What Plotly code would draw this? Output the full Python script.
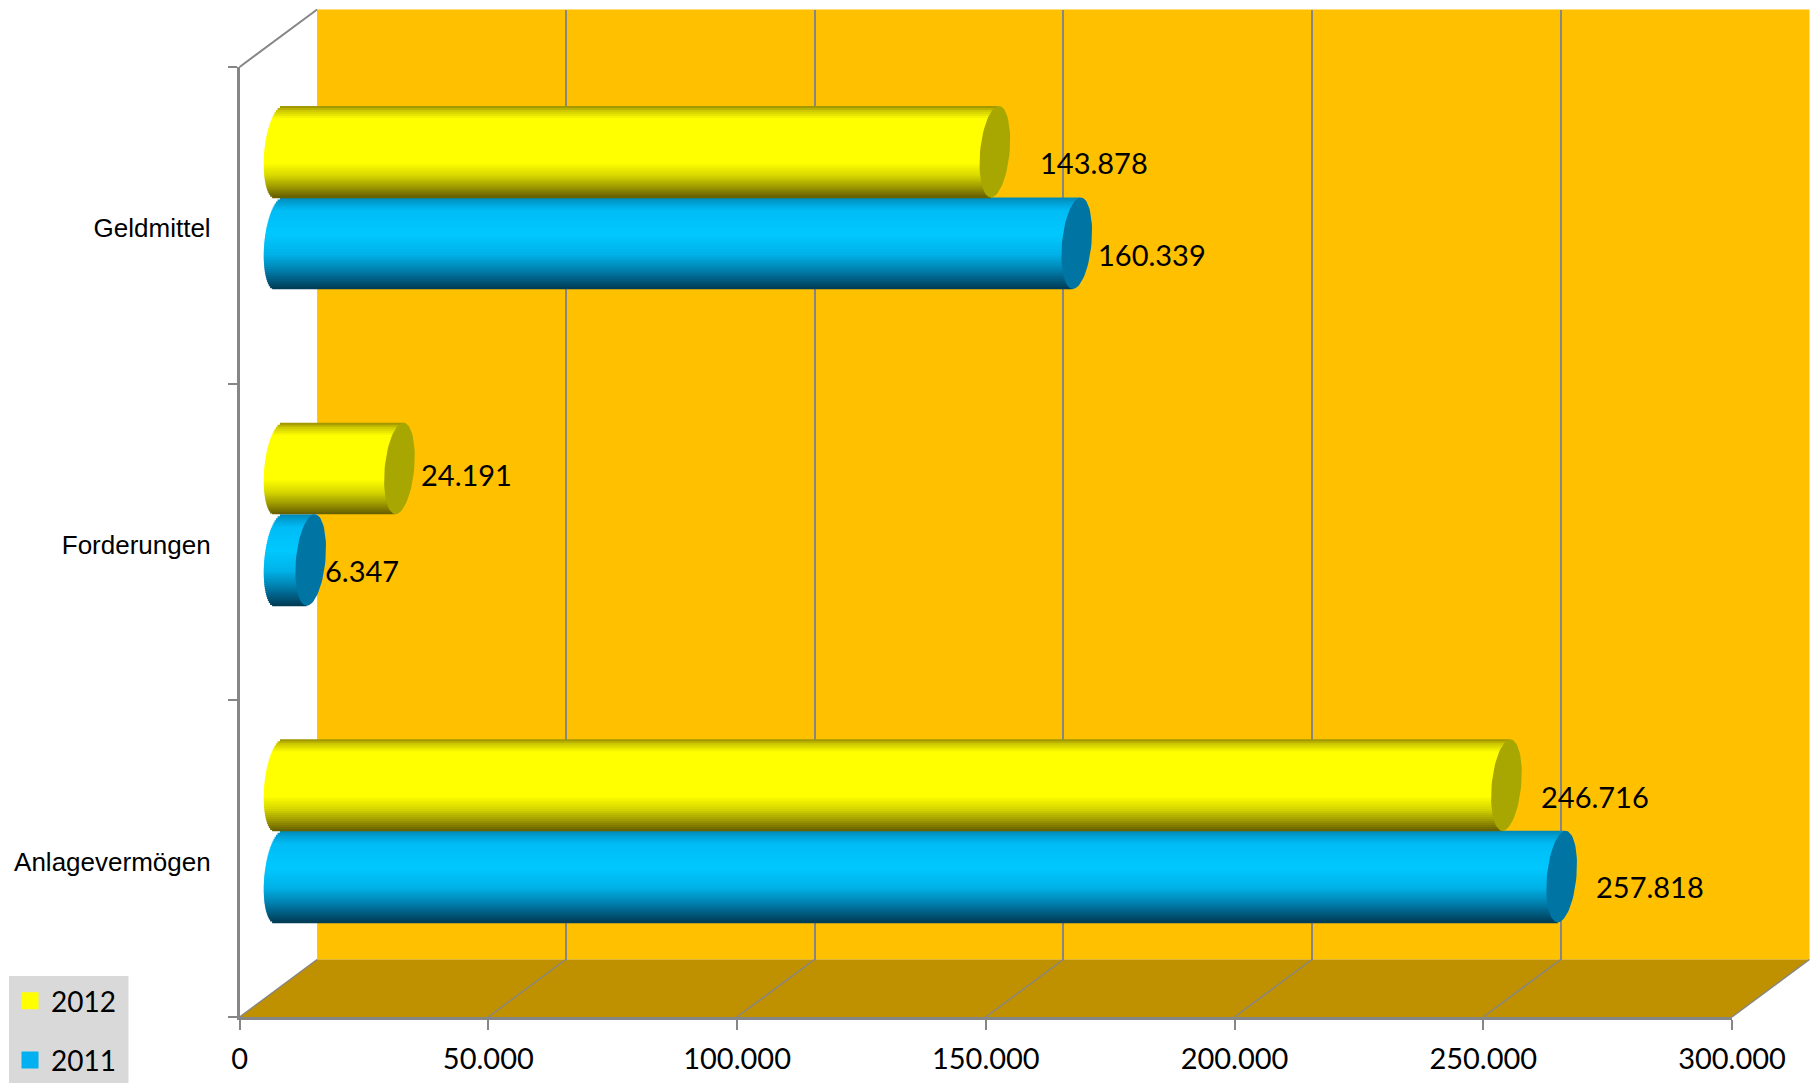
import math
import plotly.graph_objects as go

# ---------- data ----------
CATEGORIES = ["Anlagevermögen", "Forderungen", "Geldmittel"]
VALUES_2011 = [257818, 6347, 160339]
VALUES_2012 = [246716, 24191, 143878]
X_TICKS = [0, 50000, 100000, 150000, 200000, 250000, 300000]

# ---------- geometry in page pixels ----------
W, H = 1815, 1083
FRONT_X0, FRONT_X1 = 239.6, 1732.0
FRONT_Y_BOTTOM, FRONT_Y_TOP = 1017.0, 67.0
DEPTH_X, DEPTH_Y = 77.5, 57.5
BAR_DX, BAR_DY = 39.5, 27.8
XMAX = 300000
UNIT = XMAX / (FRONT_X1 - FRONT_X0)          # data units per pixel
BAND = (FRONT_Y_BOTTOM - FRONT_Y_TOP) / 3
BAR_H = 91.5 / BAND                          # bar thickness in category units
CAP_A, CAP_S = 14.8, 4.0                     # cap half-width and slant, px
BAR_PAD = 30.0                               # room left of zero for the rounded bar ends, px
N_STRIPS = 46

def px(x): return x / W
def py(y): return 1 - y / H

# ---------- cylinder shading (position from the top, colour) ----------
YELLOW_STOPS = [(0.00, (150, 140, 0)), (0.05, (205, 200, 0)), (0.14, (255, 255, 0)),
                (0.62, (255, 255, 0)), (0.76, (215, 215, 0)), (0.90, (150, 145, 0)),
                (1.00, (100, 92, 0))]
BLUE_STOPS = [(0.00, (0, 135, 180)), (0.06, (0, 160, 212)), (0.14, (0, 188, 245)),
              (0.40, (0, 200, 255)), (0.62, (0, 178, 232)), (0.80, (0, 125, 170)),
              (0.92, (0, 85, 120)), (1.00, (0, 58, 82))]

def shade(stops, t):
    for (t0, c0), (t1, c1) in zip(stops, stops[1:]):
        if t <= t1:
            f = (t - t0) / (t1 - t0)
            return "rgb(%d,%d,%d)" % tuple(round(a + (b - a) * f) for a, b in zip(c0, c1))
    return "rgb(%d,%d,%d)" % stops[-1][1]

fig = go.Figure()

# wall-plane subplot (x, y) holds the gridlines; bar plane (x2, y2); front axes (x3, y3)
AX2 = dict(xaxis="x2", yaxis="y2")
Y_POS = list(range(len(CATEGORIES)))

def add_series(name, values, colour, stops, top, rank):
    # the series' bar; the strips below shade it like a cylinder
    fig.add_trace(go.Bar(
        name=name, orientation="h", y=Y_POS, x=values, base=0,
        width=BAR_H * 0.6, offset=top - BAR_H * 0.8,
        marker=dict(color=colour, line=dict(color=colour, width=6)),
        legendrank=rank, legendgroup=name, hoverinfo="skip", **AX2))
    strip = BAR_H / N_STRIPS
    for i in range(N_STRIPS):
        t = (i + 0.5) / N_STRIPS
        h = 1 - 2 * t
        slant = CAP_S * h
        left = (-CAP_A * math.sqrt(max(0, 1 - h * h)) + slant) * UNIT
        y_top = top - i * strip
        y_bot = max(top - BAR_H, y_top - 1.6 * strip)
        fig.add_trace(go.Bar(
            orientation="h", y=Y_POS,
            x=[v + slant * UNIT - left for v in values], base=left,
            width=y_top - y_bot, offset=y_bot,
            marker=dict(color=shade(stops, t), line=dict(width=0)),
            showlegend=False, hoverinfo="skip", **AX2))

add_series("2011", VALUES_2011, "#00B0F0", BLUE_STOPS, 0.0, 2)
add_series("2012", VALUES_2012, "#FFFF00", YELLOW_STOPS, BAR_H, 1)

def add_caps(values, colour, top):
    xs, ys = [], []
    centre = top - BAR_H / 2
    for pos, v in zip(Y_POS, values):
        for k in range(73):
            a = 2 * math.pi * k / 72
            s = math.sin(a)
            xs.append(v + (CAP_A * math.cos(a) + CAP_S * s) * UNIT)
            ys.append(pos + centre + BAR_H / 2 * s)
        xs.append(None)
        ys.append(None)
    fig.add_trace(go.Scatter(x=xs, y=ys, mode="lines", fill="toself", fillcolor=colour,
                             line=dict(width=0, color=colour), showlegend=False,
                             hoverinfo="skip", **AX2))

add_caps(VALUES_2011, "#0075A3", 0.0)
add_caps(VALUES_2012, "#A8A600", BAR_H)

# front axes need the categories registered
fig.add_trace(go.Scatter(x=[0] * 3, y=CATEGORIES, mode="none", showlegend=False,
                         hoverinfo="skip", xaxis="x3", yaxis="y3"))
# wall subplot
fig.add_trace(go.Scatter(x=[0], y=[0], mode="none", showlegend=False, hoverinfo="skip"))

# ---------- data labels ----------
LABEL_SHIFTS = {
    ("2012", 2): (99.5, 34.6), ("2011", 2): (75.2, -56.8),
    ("2012", 1): (67.5, 39.8), ("2011", 1): (51.7, -56.3),
    ("2012", 0): (89.0, 34.5), ("2011", 0): (88.7, -55.8),
}
annotations = []
for name, values in (("2012", VALUES_2012), ("2011", VALUES_2011)):
    for pos, v in zip(Y_POS, values):
        sx, sy = LABEL_SHIFTS[(name, pos)]
        annotations.append(dict(
            x=v, y=pos, xref="x2", yref="y2", xshift=sx, yshift=sy, showarrow=False,
            xanchor="center", yanchor="middle",
            text=f"{v:,}".replace(",", "."),
            font=dict(family="Lato", size=29, color="#000000")))

# ---------- wall, floor, side edges ----------
GREY = "#868686"
WALL_Y_TOP = FRONT_Y_TOP - DEPTH_Y
WALL_Y_BOTTOM = FRONT_Y_BOTTOM - DEPTH_Y
WALL_X0, WALL_X1 = FRONT_X0 + DEPTH_X, FRONT_X1 + DEPTH_X

def poly(points):
    return "M" + " L".join(f"{px(x)},{py(y)}" for x, y in points) + " Z"

shapes = [
    dict(type="rect", xref="paper", yref="paper", layer="below", line=dict(width=0),
         fillcolor="#FFC000", x0=px(WALL_X0), x1=px(WALL_X1),
         y0=py(WALL_Y_BOTTOM), y1=py(WALL_Y_TOP)),
    dict(type="path", xref="paper", yref="paper", layer="below", line=dict(width=0),
         fillcolor="#BF9000",
         path=poly([(FRONT_X0, FRONT_Y_BOTTOM), (FRONT_X1, FRONT_Y_BOTTOM),
                    (WALL_X1, WALL_Y_BOTTOM), (WALL_X0, WALL_Y_BOTTOM)])),
    # legend panel, slightly wider than the legend's own box
    dict(type="rect", xref="paper", yref="paper", layer="below", line=dict(width=0),
         fillcolor="#D9D9D9", x0=px(9), x1=px(128.5), y0=py(1083), y1=py(976)),
]
for tick in X_TICKS:
    fx = FRONT_X0 + tick / UNIT
    shapes.append(dict(type="line", xref="paper", yref="paper", layer="below",
                       line=dict(color=GREY, width=1.5),
                       x0=px(fx), y0=py(FRONT_Y_BOTTOM),
                       x1=px(fx + DEPTH_X), y1=py(WALL_Y_BOTTOM)))
shapes.append(dict(type="line", xref="paper", yref="paper", layer="below",
                   line=dict(color=GREY, width=2),
                   x0=px(FRONT_X0), y0=py(FRONT_Y_TOP),
                   x1=px(WALL_X0), y1=py(WALL_Y_TOP)))

hidden = dict(visible=False, fixedrange=True)
fig.update_layout(
    width=W, height=H, autosize=False,
    margin=dict(l=0, r=0, t=0, b=0, pad=0, autoexpand=False),
    paper_bgcolor="#FFFFFF", plot_bgcolor="rgba(0,0,0,0)",
    barmode="overlay", separators=",.",
    shapes=shapes, annotations=annotations,
    font=dict(family="Lato", size=28, color="#000000"),
    hovermode=False,
    legend=dict(
        x=px(9), y=py(976), xanchor="left", yanchor="top",
        bgcolor="#D9D9D9", borderwidth=0,
        font=dict(family="Lato", size=28, color="#000000"),
        tracegroupgap=20, itemwidth=32,
        itemclick=False, itemdoubleclick=False),
    # wall plane
    xaxis=dict(domain=[px(WALL_X0), px(WALL_X1)], range=[0, XMAX], dtick=50000,
               showgrid=True, gridcolor=GREY, gridwidth=2, zeroline=False,
               showticklabels=False, ticks="", showline=False, anchor="y", fixedrange=True),
    yaxis=dict(domain=[py(WALL_Y_BOTTOM), py(WALL_Y_TOP)], range=[0, 1], showgrid=False,
               zeroline=False, showticklabels=False, ticks="", showline=False,
               anchor="x", fixedrange=True),
    # bar plane, mid-depth (range starts below zero so the rounded ends are not clipped)
    xaxis2=dict(domain=[px(FRONT_X0 + BAR_DX - BAR_PAD), px(FRONT_X1 + BAR_DX)],
                range=[-BAR_PAD * UNIT, XMAX], anchor="y2", **hidden),
    yaxis2=dict(domain=[py(FRONT_Y_BOTTOM - BAR_DY), py(FRONT_Y_TOP - BAR_DY)],
                range=[-0.5, 2.5], anchor="x2", **hidden),
    # front axes
    xaxis3=dict(domain=[px(FRONT_X0), px(FRONT_X1)], range=[0, XMAX],
                tickmode="array", tickvals=X_TICKS, tickformat=",d",
                showgrid=False, zeroline=False, showline=True, linecolor=GREY, linewidth=2.5,
                ticks="outside", ticklen=10, tickwidth=1.5, tickcolor=GREY,
                tickfont=dict(family="Lato", size=29, color="#000000"),
                ticklabelstandoff=4, anchor="y3", fixedrange=True),
    yaxis3=dict(domain=[py(FRONT_Y_BOTTOM), py(FRONT_Y_TOP)], type="category",
                categoryorder="array", categoryarray=CATEGORIES, range=[-0.5, 2.5],
                tickson="boundaries",
                showgrid=False, zeroline=False, showline=True, linecolor=GREY, linewidth=2.5,
                ticks="outside", ticklen=9, tickwidth=1.5, tickcolor=GREY,
                tickfont=dict(family="Liberation Sans", size=26, color="#000000"),
                ticklabelstandoff=21, ticklabelshift=3, anchor="x3", fixedrange=True),
)

fig.write_html("out.html", config={"displayModeBar": False},
               post_script="document.body.style.margin='0';document.body.style.overflow='hidden';")
